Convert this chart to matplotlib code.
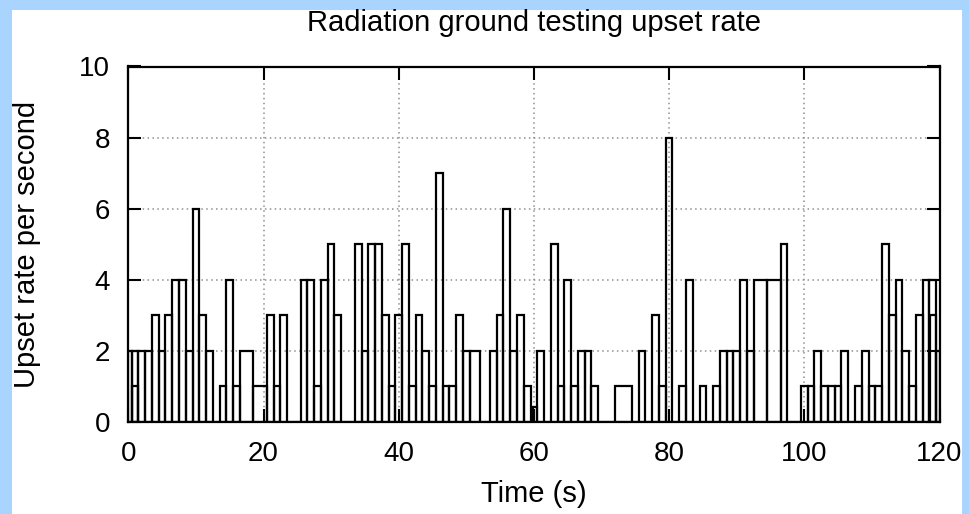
import matplotlib
matplotlib.use("Agg")
import matplotlib.pyplot as plt
from matplotlib.patches import Rectangle

# ---- data: measurement intervals (s) and upset rate ----
bin_start = [0, 0.5, 1.5, 2.5, 3.5, 4.5, 5.5, 6.5, 7.5, 8.5, 9.5, 10.5, 11.5, 12.5,
             13.5, 14.5, 15.5, 16.5, 18.5, 20.5, 21.5, 22.5, 23.5, 25.5, 26.5, 27.5,
             28.5, 29.5, 30.5, 31.5, 33.5, 34.5, 35.5, 36.5, 37.5, 38.5, 39.5, 40.5,
             41.5, 42.5, 43.5, 44.5, 45.5, 46.5, 47.5, 48.5, 49.5, 50.5, 52.1, 53.5,
             54.5, 55.5, 56.5, 57.5, 58.5, 59.5, 59.8, 60.4, 61.5, 62.5, 63.5, 64.5,
             65.5, 66.5, 67.5, 68.5, 69.5, 72.0, 74.5, 75.5, 76.5, 77.5, 78.5, 79.5,
             80.5, 81.5, 82.5, 83.5, 84.5, 85.5, 86.5, 87.5, 88.5, 89.5, 90.5, 91.5,
             92.5, 94.5, 96.5, 97.5, 99.5, 100.5, 101.5, 102.5, 103.5, 104.5, 105.5,
             106.5, 107.5, 108.5, 109.5, 110.5, 111.5, 112.5, 113.5, 114.5, 115.5,
             116.5, 117.5, 118.5, 119.5]
bin_end_last = 120
rate = [2, 2, 2, 2, 3, 2, 3, 4, 4, 2, 6, 3, 2, 0,
        1, 4, 1, 2, 1, 3, 1, 3, 0, 4, 4, 1,
        4, 5, 3, 0, 5, 2, 5, 5, 3, 1, 3, 5,
        1, 3, 2, 1, 7, 1, 1, 3, 2, 2, 0, 2,
        3, 6, 2, 3, 1, 0, 0.4, 2, 0, 5, 1, 4,
        1, 2, 2, 1, 0, 1, 0, 2, 0, 3, 1, 8,
        0, 1, 4, 0, 1, 0, 1, 2, 2, 2, 4, 2,
        4, 4, 5, 0, 1, 1, 2, 1, 1, 1, 2,
        0, 1, 2, 1, 1, 5, 3, 4, 2, 1,
        3, 4, 4, 2]
# overlapping partial intervals
extra_start = [0.6, 118.6]
extra_end = [1.5, 119.5]
extra_rate = [1, 3]

x_ticks = [0, 20, 40, 60, 80, 100, 120]
y_ticks = [0, 2, 4, 6, 8, 10]

bin_end = bin_start[1:] + [bin_end_last]
widths = [e - s for s, e in zip(bin_start, bin_end)]
extra_w = [e - s for s, e in zip(extra_start, extra_end)]

W, H = 970, 514
fig = plt.figure(figsize=(W / 100, H / 100), dpi=100)
fig.patch.set_facecolor("#a8d4fe")
fig.add_artist(Rectangle((12 / W, 0), (962 - 12) / W, (H - 9.5) / H,
                         transform=fig.transFigure, facecolor="white",
                         edgecolor="none", zorder=0))

left, right, top, bottom = 128.3, 939.5, 66.5, 421.7
ax = fig.add_axes([left / W, (H - bottom) / H, (right - left) / W, (bottom - top) / H])
ax.set_facecolor("white")

ax.bar(bin_start, rate, width=widths, align="edge", fill=False,
       edgecolor="black", linewidth=1.6, zorder=3, clip_on=True)
ax.bar(extra_start, extra_rate, width=extra_w, align="edge", fill=False,
       edgecolor="black", linewidth=1.6, zorder=3, clip_on=True)

ax.set_xlim(0, 120)
ax.set_ylim(0, 10)
ax.set_xticks(x_ticks)
ax.set_yticks(y_ticks)
ax.grid(True, color="#909090", linestyle=(0, (1, 2.2)), linewidth=1.1, zorder=1)
ax.set_axisbelow(True)

for s in ax.spines.values():
    s.set_linewidth(1.6)
    s.set_zorder(5)

font = "Liberation Sans"
ax.tick_params(direction="in", length=9.5, width=1.5, top=True, right=True,
               labelsize=20)
ax.tick_params(axis="x", pad=14)
ax.tick_params(axis="y", pad=13)
for lab in ax.get_xticklabels() + ax.get_yticklabels():
    lab.set_fontfamily(font)

ax.set_title("Radiation ground testing upset rate", fontsize=21, family=font,
             y=1.1008, pad=0)
ax.set_xlabel("Time (s)", fontsize=21, family=font)
ax.set_ylabel("Upset rate per second", fontsize=21, family=font)
ax.xaxis.set_label_coords(0.5, -0.165)
ax.yaxis.set_label_coords(-0.108, 0.5)

fig.savefig("out.png", dpi=100)
